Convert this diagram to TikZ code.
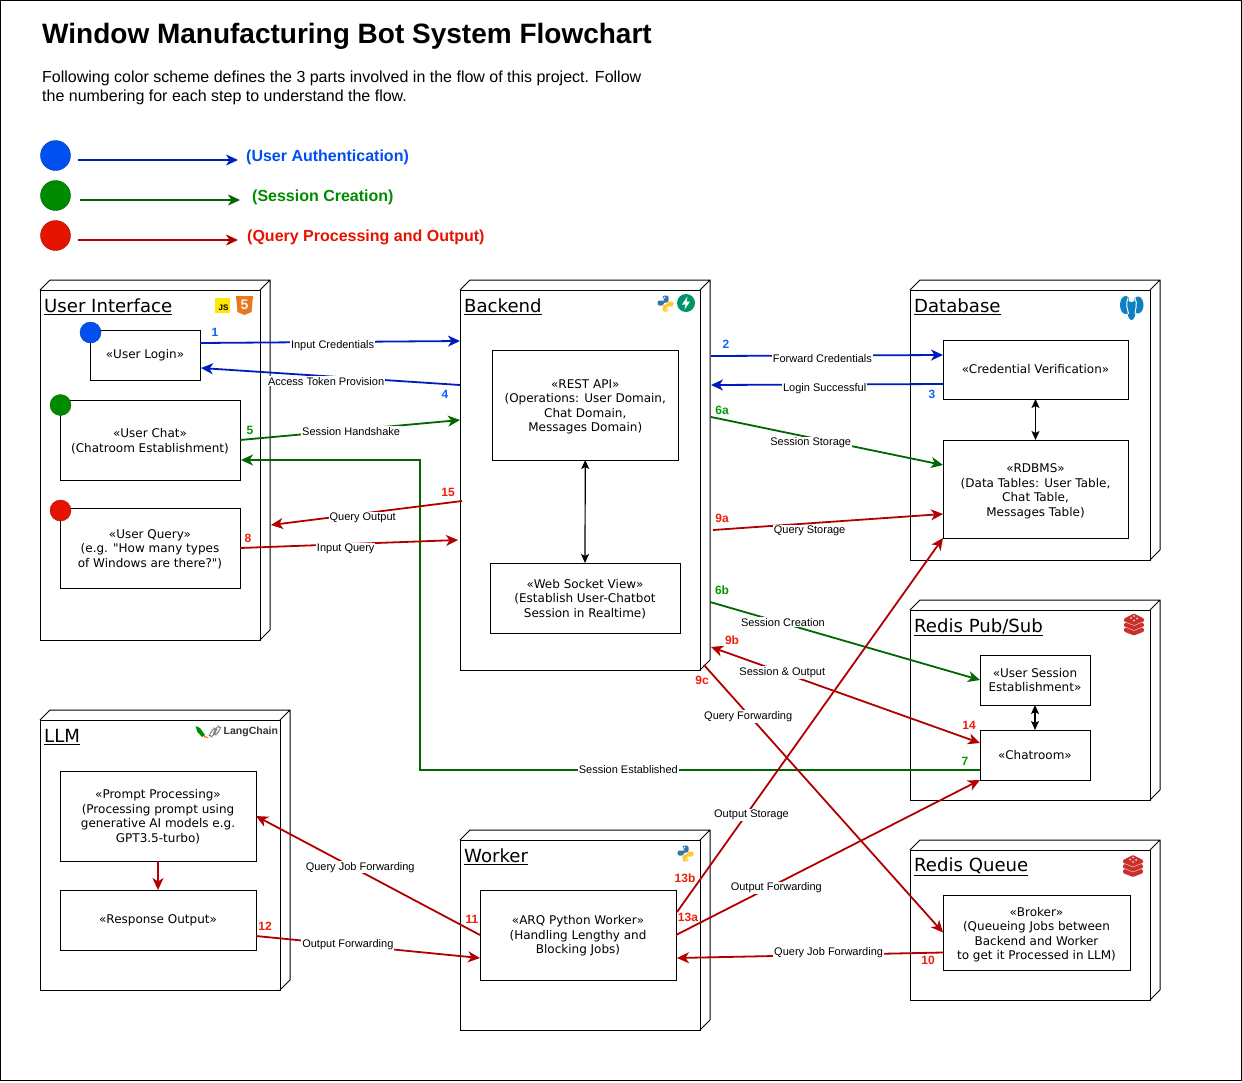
\documentclass[tikz,border=0pt]{standalone}
\usepackage{fontspec}
\setmainfont{Liberation Sans}
\newfontfamily\boxfont{DejaVu Sans}
\usetikzlibrary{arrows.meta}
\definecolor{authblue}{HTML}{001DBC}
\definecolor{sessgreen}{HTML}{006600}
\definecolor{queryred}{HTML}{B20000}
\definecolor{numblue}{HTML}{0F62FE}
\definecolor{numgreen}{HTML}{009900}
\definecolor{numred}{HTML}{F01E0A}
\definecolor{legblue}{HTML}{0050EF}
\definecolor{leggreen}{HTML}{008A00}
\definecolor{legred}{HTML}{E51400}
\definecolor{pyblue}{HTML}{3776AB}
\definecolor{pyyellow}{HTML}{FFC931}
\definecolor{redisred}{HTML}{C9302C}
\definecolor{pgblue}{HTML}{0E7FC0}
\definecolor{htmlorange}{HTML}{E8771F}
\newcommand{\boxstart}[1]{\rule{0pt}{#1pt}}
\tikzset{
  pics/pyicon/.style={code={
    \fill[pyblue, rounded corners=2pt] (-3,-8) -- (3,-8) -- (3,-1) -- (-2,-1) -- (-2,2) -- (-8,2) -- (-8,-3) -- (0,-3) -- (-3,-5) -- cycle;
    \fill[pyyellow, rounded corners=2pt] (3,8) -- (-3,8) -- (-3,1) -- (2,1) -- (2,-2) -- (8,-2) -- (8,3) -- (0,3) -- (3,5) -- cycle;
    \fill[white] (-1,-6) circle (0.8) (1,6) circle (0.8);
  }},
  pics/redisicon/.style={code={
    \foreach \ly in {5,0,-5}
      \fill[redisred, rounded corners=1pt] (-10,\ly-1) -- (-10,\ly+2) -- (0,\ly+6) -- (10,\ly+2) -- (10,\ly-1) -- (0,\ly-6) -- cycle;
    \draw[white!70!redisred, line width=0.5pt] (-10,2) -- (0,6) -- (10,2) (-10,-3) -- (0,1) -- (10,-3);
    \fill[white!85!redisred] (-3,-6.5) circle (1) (3,-6) circle (1) (0,-8.5) circle (1) (0,-4) circle (1);
  }}
}
\begin{document}
\begin{tikzpicture}[
    x=1pt, y=-1pt,
    >={Stealth[length=12pt,width=11pt,inset=3.5pt]},
    cube/.style={rectangle, draw=black, line width=1pt, fill=white, inner sep=0pt, outer sep=0pt},
    cubetitle/.style={anchor=west, inner sep=0pt, font=\boxfont\fontsize{18.1}{22}\selectfont},
    box/.style={rectangle, draw=black, line width=1pt, fill=white, align=center, inner sep=0pt, outer sep=0pt, font=\boxfont\fontsize{12}{14.5}\selectfont},
    dot/.style={circle, draw=#1!75!black, fill=#1, inner sep=0pt, outer sep=0pt, minimum size=21pt},
    legenddot/.style={circle, draw=#1!75!black, fill=#1, inner sep=0pt, outer sep=0pt, minimum size=30pt},
    legendtext/.style={anchor=west, inner sep=0pt, font=\bfseries\fontsize{16}{19}\selectfont},
    bluearrow/.style={->, line width=1.8pt, authblue},
    greenarrow/.style={->, line width=1.8pt, sessgreen},
    redarrow/.style={->, line width=1.8pt, queryred},
    both/.style={<->, line width=1.2pt, black, >={Stealth[length=9pt,width=8pt,inset=2pt]}},
    tag/.style={fill=white, text=black, inner sep=1pt, font=\fontsize{11}{12}\selectfont},
    bluenum/.style={text=numblue, inner sep=0pt, font=\bfseries\fontsize{12}{14}\selectfont},
    greennum/.style={text=numgreen, inner sep=0pt, font=\bfseries\fontsize{12}{14}\selectfont},
    rednum/.style={text=numred, inner sep=0pt, font=\bfseries\fontsize{12}{14}\selectfont}
  ]
  \useasboundingbox (0,0) rectangle (1242,1082);
  \draw[line width=1pt] (0.5,0.5) rectangle (1241,1080.5);

  \node[anchor=west, inner sep=0pt, font=\bfseries\fontsize{28}{32}\selectfont] (title) at (42,36.5) {Window Manufacturing Bot System Flowchart};
  \node[anchor=north west, align=left, inner sep=0pt, font=\fontsize{16}{19}\selectfont] (intro) at (42,70.5) {Following color scheme defines the 3 parts involved in the flow of this project. Follow\\the numbering for each step to understand the flow.};

  \node[legenddot=legblue] (legA) at (55.5,155.5) {};
  \node[legenddot=leggreen] (legB) at (55.5,195.5) {};
  \node[legenddot=legred] (legC) at (55.5,235.5) {};
  \coordinate (legAs) at (78,160);
  \coordinate (legAe) at (238,160);
  \coordinate (legBs) at (80,200);
  \coordinate (legBe) at (240,200);
  \coordinate (legCs) at (78,240);
  \coordinate (legCe) at (238,240);
  \draw[bluearrow] (legAs) -- (legAe);
  \draw[greenarrow] (legBs) -- (legBe);
  \draw[redarrow] (legCs) -- (legCe);
  \node[legendtext, text=legblue] (legAt) at (246,157) {(User Authentication)};
  \node[legendtext, text=leggreen] (legBt) at (252,197) {(Session Creation)};
  \node[legendtext, text=legred] (legCt) at (247,237) {(Query Processing and Output)};

  \node[cube, minimum width=220pt, minimum height=350pt] (ui) at (150,465) {};
  \node[cube, minimum width=240pt, minimum height=380pt] (backend) at (580,480) {};
  \node[cube, minimum width=240pt, minimum height=270pt] (database) at (1030,425) {};
  \node[cube, minimum width=240pt, minimum height=190pt] (pubsub) at (1030,705) {};
  \node[cube, minimum width=240pt, minimum height=150pt] (queue) at (1030,925) {};
  \node[cube, minimum width=240pt, minimum height=270pt] (llm) at (160,855) {};
  \node[cube, minimum width=240pt, minimum height=190pt] (worker) at (580,935) {};
  \foreach \cb in {ui,backend,database,pubsub,queue,llm,worker}
    \draw[line width=1pt] (\cb.north west) -- ++(10,-10) -- ([shift={(10pt,10pt)}]\cb.north east) -- ([shift={(10pt,10pt)}]\cb.south east) -- (\cb.south east) (\cb.north east) -- ++(10,-10);

  \node[cubetitle] (uititle) at (44,307) {\underline{User Interface}};
  \node[cubetitle] (backendtitle) at (464,307) {\underline{Backend}};
  \node[cubetitle] (databasetitle) at (914,307) {\underline{Database}};
  \node[cubetitle] (pubsubtitle) at (914,627) {\underline{Redis Pub/Sub}};
  \node[cubetitle] (queuetitle) at (914,867) {\underline{Redis Queue}};
  \node[cubetitle] (llmtitle) at (44,737) {\underline{LLM}};
  \node[cubetitle] (workertitle) at (464,857) {\underline{Worker}};

  \node[box, minimum width=110pt, minimum height=50pt] (login) at (145,355) {«User Login»};
  \node[box, minimum width=180pt, minimum height=80pt] (chat) at (150,440) {\boxstart{11.5}«User Chat»\\(Chatroom Establishment)};
  \node[box, minimum width=180pt, minimum height=80pt] (query) at (150,548) {\boxstart{11.5}«User Query»\\(e.g. "How many types\\of Windows are there?")};
  \node[box, minimum width=185.5pt, minimum height=110pt] (restapi) at (585.25,405) {\boxstart{12}«REST API»\\(Operations: User Domain,\\Chat Domain,\\Messages Domain)};
  \node[box, minimum width=190pt, minimum height=70pt] (websocket) at (585,598) {\boxstart{11.5}«Web Socket View»\\(Establish User-Chatbot\\Session in Realtime)};
  \node[box, minimum width=185pt, minimum height=59pt] (cred) at (1035.5,369.5) {«Credential Verification»};
  \node[box, minimum width=185pt, minimum height=98pt] (rdbms) at (1035.5,489) {\boxstart{13}«RDBMS»\\(Data Tables: User Table,\\Chat Table,\\Messages Table)};
  \node[box, minimum width=110pt, minimum height=50pt] (usersess) at (1035,680) {«User Session\\Establishment»};
  \node[box, minimum width=110pt, minimum height=50pt] (chatroom) at (1035,755) {«Chatroom»};
  \node[box, minimum width=187pt, minimum height=75pt] (broker) at (1036.5,932.5) {\boxstart{13}«Broker»\\(Queueing Jobs between\\Backend and Worker\\to get it Processed in LLM)};
  \node[box, minimum width=196pt, minimum height=90pt] (prompt) at (158,816) {\boxstart{11}«Prompt Processing»\\(Processing prompt using\\generative AI models e.g.\\GPT3.5-turbo)};
  \node[box, minimum width=196pt, minimum height=60pt] (response) at (158,920) {«Response Output»};
  \node[box, minimum width=196pt, minimum height=90pt] (arq) at (578,935) {\boxstart{11}«ARQ Python Worker»\\(Handling Lengthy and\\Blocking Jobs)};

  \node[dot=legblue] (logindot) at (90.5,332.5) {};
  \node[dot=leggreen] (chatdot) at (60.5,405) {};
  \node[dot=legred] (querydot) at (60.5,510.5) {};

  \draw[both] (cred.south) -- (rdbms.north);
  \draw[both] (usersess.south) -- (chatroom.north);
  \draw[both] (restapi.south) -- (websocket.north);

  \draw[bluearrow] ([yshift=12pt]login.east) -- node[tag, pos=.51, yshift=-4pt] {Input Credentials} ([yshift=139pt]backend.west);
  \draw[bluearrow] ([yshift=95pt]backend.west) -- node[tag, pos=.517, yshift=-5pt] {Access Token Provision} ([xshift=1pt,yshift=-13pt]login.east);
  \draw[greenarrow] (chat.east) -- node[tag, pos=.505, yshift=-1.5pt] {Session Handshake} ([yshift=60pt]backend.west);
  \coordinate (knee) at (420,460);
  \draw[greenarrow] ([yshift=-15pt]chatroom.west) -| node[tag, pos=.314, yshift=.5pt] {Session Established} (knee) -- ([xshift=1pt,yshift=-20pt]chat.east);
  \draw[redarrow] ([xshift=2pt,yshift=-21pt]backend.west) -- node[tag, pos=.52, yshift=-4pt] {Query Output} ([xshift=11pt,yshift=-60pt]ui.east);
  \draw[redarrow] (query.east) -- node[tag, pos=.485, yshift=-4.5pt] {Input Query} ([xshift=-2pt,yshift=-60pt]backend.west);
  \draw[bluearrow] ([xshift=11pt,yshift=124pt]backend.east) -- node[tag, pos=.48, yshift=-3pt] {Forward Credentials} ([yshift=14.5pt]cred.west);
  \draw[bluearrow] ([yshift=-14.5pt]cred.west) -- node[tag, pos=.51, yshift=-4.5pt] {Login Successful} ([xshift=11pt,yshift=95pt]backend.east);
  \draw[greenarrow] ([xshift=11pt,yshift=63pt]backend.east) -- node[tag, pos=.43, yshift=-5.5pt] {Session Storage} ([yshift=24pt]rdbms.west);
  \draw[redarrow] ([xshift=13pt,yshift=-50pt]backend.east) -- node[tag, pos=.42, yshift=-7.5pt] {Query Storage} ([yshift=-25pt]rdbms.west);
  \draw[greenarrow] ([xshift=10pt,yshift=-122pt]backend.east) -- node[tag, pos=.27, yshift=1pt] {Session Creation} (usersess.west);
  \draw[redarrow, <->] ([xshift=11pt,yshift=-167pt]backend.east) -- node[tag, pos=.265] {Session \& Output} ([yshift=12pt]chatroom.west);
  \draw[redarrow] ([xshift=4pt,yshift=-185pt]backend.east) -- node[tag, pos=.185, yshift=-2pt] {Query Forwarding} (broker.west);
  \draw[redarrow] ([xshift=1pt,yshift=23pt]arq.east) -- node[tag, pos=.28, yshift=-8pt] {Output Storage} (rdbms.south west);
  \draw[redarrow] (arq.east) -- node[tag, pos=.33, yshift=-4pt] {Output Forwarding} (chatroom.south west);
  \draw[redarrow] ([yshift=-20pt]broker.west) -- node[tag, pos=.43, yshift=2pt] {Query Job Forwarding} ([xshift=1pt,yshift=-23pt]arq.east);
  \draw[redarrow] (arq.west) -- node[tag, pos=.535, yshift=4pt] {Query Job Forwarding} (prompt.east);
  \draw[redarrow] ([yshift=-16pt]response.east) -- node[tag, pos=.41] {Output Forwarding} ([yshift=-23pt]arq.west);
  \draw[redarrow] (prompt.south) -- (response.north);

  \foreach \nx/\ny/\ntxt in {215/332/1,445/394/4,726/344/2,932/394/3}
    \node[bluenum] (num\ntxt) at (\nx,\ny) {\ntxt};
  \foreach \nx/\ny/\ntxt in {250/430/5,722/410/6a,722/590/6b,965/761/7}
    \node[greennum] (num\ntxt) at (\nx,\ny) {\ntxt};
  \foreach \nx/\ny/\ntxt in {248/538/8,448/492/15,722/518/9a,732/640/9b,702/680/9c,969/725/14,685/878/13b,688/917/13a,928/960/10,472/919/11,265/926/12}
    \node[rednum] (num\ntxt) at (\nx,\ny) {\ntxt};

  \fill[yellow!90!orange] (215,298) rectangle (230,313);
  \node[inner sep=0pt, font=\bfseries\fontsize{8}{9}\selectfont] (jsicon) at (223.5,307.5) {JS};
  \fill[htmlorange] (236,296) -- (253,296) -- (251.5,312) -- (244.5,315) -- (237.5,312) -- cycle;
  \node[inner sep=0pt, text=white!90!orange, font=\bfseries\fontsize{14}{15}\selectfont] (htmlicon) at (244.5,305) {5};

  \pic at (665.5,303.5) {pyicon};
  \pic at (685.5,853.5) {pyicon};
  \node[circle, fill=teal!85!green, inner sep=0pt, minimum size=18pt] (fastapi) at (686,303) {};
  \fill[white] (687.5,296.5) -- (682,304.5) -- (685.5,304.5) -- (684.5,309.5) -- (690,301.5) -- (686.5,301.5) -- cycle;

  \fill[pgblue] (1125.5,305) ellipse (5.5pt and 9pt);
  \fill[pgblue] (1138,305) ellipse (5.5pt and 8.5pt);
  \fill[pgblue] (1131.5,309) ellipse (4.5pt and 11pt);
  \draw[white, line width=1pt] (1128,298) .. controls (1125,304) and (1128,310) .. (1128.5,314);
  \draw[white, line width=1pt] (1135,298) .. controls (1138,304) and (1135,310) .. (1135,314);
  \fill[white] (1131.5,300) ellipse (3pt and 2pt);

  \pic at (1134,624.5) {redisicon};
  \pic at (1133,866) {redisicon};

  \fill[green!55!black] (195.5,726) -- (200,728) -- (205,735) -- (202,737) -- (197.5,732) -- cycle;
  \fill[orange] (204,735) -- (209,738) -- (204,737.5) -- cycle;
  \draw[gray, line width=1pt, rounded corners=2pt] (209,735) -- (214,728) -- (217,730) -- (212,737) -- cycle (213,733) -- (218,726) -- (221,728) -- (216,735) -- cycle;
  \node[anchor=west, inner sep=0pt, text=black!80, font=\bfseries\fontsize{10.5}{12}\selectfont] (langchain) at (223.5,731.5) {LangChain};
\end{tikzpicture}
\end{document}
